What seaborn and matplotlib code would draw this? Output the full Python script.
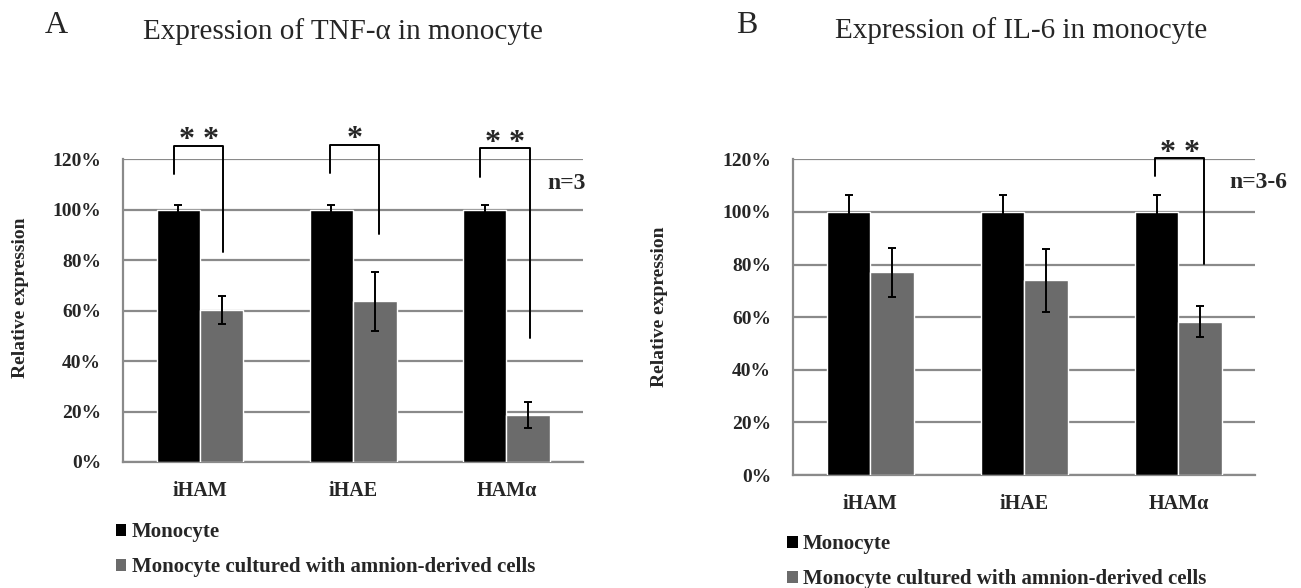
import numpy as np
import pandas as pd
import matplotlib
matplotlib.use("Agg")
import matplotlib.pyplot as plt
import seaborn as sns
from matplotlib.patches import Patch

sns.set_style("white")
plt.rcParams['font.family'] = ['Liberation Serif', 'DejaVu Serif']

# ---------------- data ----------------
categories = ["iHAM", "iHAE", "HAMα"]
groups = ["Monocyte", "Monocyte cultured with amnion-derived cells"]

tnf_mono = [100, 100, 100]
tnf_mono_err = [1.9, 1.9, 1.9]
tnf_cult = [60.3, 63.8, 18.6]
tnf_cult_err = [5.4, 11.7, 5.0]

il6_mono = [100, 100, 100]
il6_mono_err = [6.3, 6.3, 6.3]
il6_cult = [77.0, 74.0, 58.3]
il6_cult_err = [9.4, 12.0, 5.9]

yticks = [0, 20, 40, 60, 80, 100, 120]
ytick_labels = ["0%", "20%", "40%", "60%", "80%", "100%", "120%"]

# significance brackets: (category index, left-dx, right-dx, left bottom, top, right bottom, label)
tnf_sig = [(0, -0.168, 0.152, 114.1, 125.4, 83.2, "* *"),
           (1, -0.152, 0.168, 114.4, 125.8, 90.5, "*"),
           (2, -0.170, 0.152, 112.9, 124.5, 49.0, "* *")]
il6_sig = [(2, -0.149, 0.167, 113.6, 120.4, 80.2, "* *")]

BLACK = "#000000"
GRAY = "#6b6b6b"
GRID = "#8a8a8a"

W, H = 1301, 588
fig = plt.figure(figsize=(W / 100, H / 100), dpi=100)


def fx(px):
    return px / W


def fy(py):
    return 1 - py / H


def panel(rect, mono, mono_err, cult, cult_err, sig):
    ax = fig.add_axes(rect)
    df = pd.DataFrame({
        "cell": categories * 2,
        "group": [groups[0]] * 3 + [groups[1]] * 3,
        "value": list(mono) + list(cult),
    })
    sns.barplot(data=df, x="cell", y="value", hue="group", order=categories,
                hue_order=groups, palette=[BLACK, GRAY], width=0.566, gap=0,
                errorbar=None, saturation=1, legend=False, ax=ax, zorder=3)
    errs = [mono_err, cult_err]
    vals = [mono, cult]
    bar_conts = list(ax.containers)
    for i, cont in enumerate(bar_conts):
        xs = [p.get_x() + p.get_width() / 2 for p in cont]
        ax.errorbar(xs, vals[i], yerr=errs[i], fmt="none", ecolor="black",
                    elinewidth=1.4, capsize=3.2, capthick=1.4, zorder=4)
    ax.set_xlim(-0.5, 2.5)
    ax.set_ylim(0, 120)
    ax.set_yticks(yticks)
    ax.set_yticklabels(ytick_labels, fontsize=14, fontweight="bold")
    ax.set_xticks(range(len(categories)))
    ax.set_xticklabels(categories, fontsize=14.5, fontweight="bold")
    ax.set_xticks([-0.5, 0.5, 1.5, 2.5], minor=True)
    ax.tick_params(axis="x", which="major", length=0, pad=14)
    ax.tick_params(axis="x", which="minor", length=6, width=1.4, color=GRID, direction="out")
    ax.tick_params(axis="y", length=5, width=1.4, color=GRID, pad=11)
    ax.yaxis.grid(True, color=GRID, linewidth=1.6, zorder=0)
    ax.set_axisbelow(True)
    for s in ["top", "right"]:
        ax.spines[s].set_visible(False)
    for s in ["left", "bottom"]:
        ax.spines[s].set_color(GRID)
        ax.spines[s].set_linewidth(1.6)
    ax.set_xlabel("")
    ax.set_ylabel("")
    for (ci, dl, dr, yl, yt, yr, lab) in sig:
        ax.plot([ci + dl, ci + dl, ci + dr, ci + dr], [yl, yt, yt, yr],
                color="black", lw=1.4, clip_on=False, zorder=5)
        ax.annotate(lab, xy=(ci + (dl + dr) / 2, yt), xytext=(0, -2),
                    textcoords="offset points", ha="center", va="baseline",
                    fontsize=23, fontweight="bold", annotation_clip=False)
    return ax


axA = panel([fx(123.3), fy(462), fx(583) - fx(123.3), fy(159.3) - fy(462)],
            tnf_mono, tnf_mono_err, tnf_cult, tnf_cult_err, tnf_sig)
axA.text(2.268, 110.5, "n=3", ha="left", va="center", fontsize=17,
         fontweight="bold", clip_on=False)

axB = panel([fx(793.3), fy(475), fx(1255.4) - fx(793.3), fy(159.3) - fy(475)],
            il6_mono, il6_mono_err, il6_cult, il6_cult_err, il6_sig)
axB.text(2.33, 111.1, "n=3-6", ha="left", va="center", fontsize=17,
         fontweight="bold", clip_on=False)

# titles and panel letters
fig.text(fx(45), fy(33.3), "A", fontsize=23, ha="left", va="baseline")
fig.text(fx(142.7), fy(39.3), "Expression of TNF-α in monocyte", fontsize=21,
         ha="left", va="baseline")
fig.text(fx(736), fy(33.3), "B", fontsize=23, ha="left", va="baseline")
fig.text(fx(835), fy(38.3), "Expression of IL-6 in monocyte", fontsize=21,
         ha="left", va="baseline")

# y labels
fig.text(fx(21), fy(298), "Relative expression", rotation=90, fontsize=14,
         fontweight="bold", ha="center", va="center")
fig.text(fx(660), fy(307), "Relative expression", rotation=90, fontsize=14,
         fontweight="bold", ha="center", va="center")

# legends
handles = [Patch(facecolor=BLACK, edgecolor="none"), Patch(facecolor=GRAY, edgecolor="none")]
for (lx, ly) in [(116, 549.5), (787.5, 561.5)]:
    fig.legend(handles, groups, loc="center left", bbox_to_anchor=(fx(lx), fy(ly)),
               bbox_transform=fig.transFigure, frameon=False, borderpad=0,
               borderaxespad=0, handlelength=0.5, handleheight=0.5,
               handletextpad=0.25, labelspacing=0.72,
               prop={"family": "Liberation Serif", "weight": "bold", "size": 15})

fig.savefig("out.png", dpi=100)
